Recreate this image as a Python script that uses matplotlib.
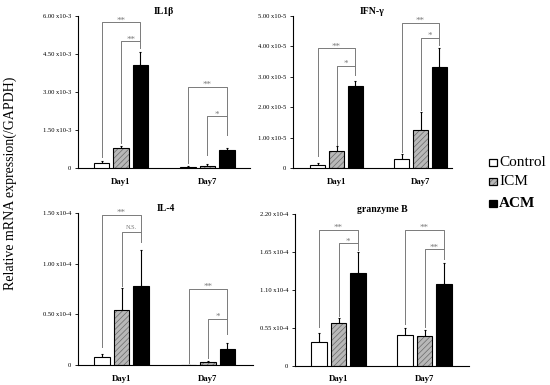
import matplotlib
matplotlib.use('Agg')
import matplotlib.pyplot as plt
from matplotlib.patches import Rectangle

plt.rcParams['font.family'] = ['Liberation Serif', 'DejaVu Serif']
plt.rcParams['hatch.linewidth'] = 0.5

# ---------------- data ----------------
days = ['Day1', 'Day7']
series = ['Control', 'ICM', 'ACM']

# IL1beta (x10-3)
il1b_mean = [[0.19, 0.04], [0.80, 0.10], [4.08, 0.72]]
il1b_err = [[0.10, 0.04], [0.07, 0.06], [0.49, 0.09]]
il1b_ticks = [0, 1.5, 3.0, 4.5, 6.0]
il1b_sig = [(0, 0, 2, 5.75, 0.45, 5.0, '**'), (0, 1, 2, 5.0, 1.0, 4.75, '**'),
            (1, 0, 2, 3.2, 0.2, 2.05, '**'), (1, 1, 2, 2.05, 0.52, 1.3, '*')]

# IFN-gamma (x10-5)
ifng_mean = [[0.11, 0.30], [0.55, 1.24], [2.70, 3.32]]
ifng_err = [[0.05, 0.16], [0.16, 0.60], [0.17, 0.62]]
ifng_ticks = [0, 1.0, 2.0, 3.0, 4.0, 5.0]
ifng_sig = [(0, 0, 2, 3.94, 0.40, 3.36, '**'), (0, 1, 2, 3.36, 0.75, 3.05, '*'),
            (1, 0, 2, 4.78, 0.52, 4.29, '**'), (1, 1, 2, 4.29, 1.92, 4.05, '*')]

# IL-4 (x10-4)
il4_mean = [[0.082, 0.002], [0.548, 0.029], [0.783, 0.157]]
il4_err = [[0.032, 0.0], [0.215, 0.010], [0.352, 0.058]]
il4_ticks = [0, 0.5, 1.0, 1.5]
il4_sig = [(0, 0, 2, 1.48, 0.18, 1.31, '**'), (0, 1, 2, 1.31, 0.78, 1.21, 'N.S.'),
           (1, 0, 2, 0.753, 0.02, 0.46, '**'), (1, 1, 2, 0.46, 0.07, 0.31, '*')]

# granzyme B (x10-4)
gzmb_mean = [[0.349, 0.451], [0.625, 0.426], [1.347, 1.192]]
gzmb_err = [[0.131, 0.101], [0.073, 0.088], [0.296, 0.296]]
gzmb_ticks = [0, 0.55, 1.10, 1.65, 2.20]
gzmb_sig = [(0, 0, 2, 1.967, 0.56, 1.773, '**'), (0, 1, 2, 1.773, 0.72, 1.68, '*'),
            (1, 0, 2, 1.967, 0.60, 1.686, '**'), (1, 1, 2, 1.686, 0.56, 1.55, '**')]

titles = ['IL1β', 'IFN-γ', 'IL-4', 'granzyme B']
exponents = ['x10-3', 'x10-5', 'x10-4', 'x10-4']

# ---------------- figure ----------------
W, H = 550, 385
fig = plt.figure(figsize=(W / 100, H / 100), dpi=100)

# (left px, px per unit, xlim, top px, bottom px)
layouts = [
    (78, 86.5, (-0.497, 1.49), 16, 168.3),
    (293, 84.0, (-0.518, 1.375), 16, 168.0),
    (78, 86.5, (-0.503, 1.52), 212.7, 365.3),
    (295, 86.0, (-0.506, 1.517), 214.0, 365.7),
]

panels = [
    (il1b_mean, il1b_err, il1b_ticks, il1b_sig),
    (ifng_mean, ifng_err, ifng_ticks, ifng_sig),
    (il4_mean, il4_err, il4_ticks, il4_sig),
    (gzmb_mean, gzmb_err, gzmb_ticks, gzmb_sig),
]

offset = 0.225
bw = 0.18
fills = ['white', '#b8b8b8', 'black']
sig_color = '#7a7a7a'

for k, (means, errs, ticks, sigs) in enumerate(panels):
    left, ppu, xl, top, bot = layouts[k]
    width_px = (xl[1] - xl[0]) * ppu
    ax = fig.add_axes([left / W, 1 - bot / H, width_px / W, (bot - top) / H])
    ax.set_xlim(*xl)
    ax.set_ylim(0, ticks[-1])
    for s in range(3):
        xs = [d + (s - 1) * offset for d in range(2)]
        if s == 1:
            ax.bar(xs, means[s], width=bw, color=fills[s], edgecolor='#6a6a6a',
                   hatch='//////', linewidth=0, zorder=2)
            ax.bar(xs, means[s], width=bw, fill=False, edgecolor='black',
                   linewidth=0.8, zorder=3)
        else:
            ax.bar(xs, means[s], width=bw, color=fills[s], edgecolor='black',
                   linewidth=0.8, zorder=3)
        ax.errorbar(xs, means[s], yerr=[[0, 0], errs[s]], fmt='none',
                    ecolor='black', elinewidth=0.8, capsize=1.0, capthick=0.8,
                    zorder=1)
    for d, i, j, yb, yi, yj, lab in sigs:
        xi = d + (i - 1) * offset
        xj = d + (j - 1) * offset
        ax.plot([xi, xi, xj, xj], [yi, yb, yb, yj], color=sig_color, lw=0.7,
                zorder=4, clip_on=False)
        small = lab == 'N.S.'
        ax.text((xi + xj) / 2, yb + ticks[-1] * (0.012 if small else -0.015), lab,
                ha='center', va='bottom', fontsize=4.5 if small else 6.5,
                color=sig_color)
    ax.spines['top'].set_visible(False)
    ax.spines['right'].set_visible(False)
    ax.spines['left'].set_linewidth(0.8)
    ax.spines['bottom'].set_linewidth(0.8)
    ax.set_yticks(ticks)
    ax.set_yticklabels(['0' if t == 0 else f'{t:.2f} {exponents[k]}' for t in ticks])
    ax.tick_params(axis='y', direction='out', length=2, width=0.6, pad=3,
                   labelsize=4.7)
    ax.set_xticks([0, 1])
    ax.set_xticklabels(days)
    ax.tick_params(axis='x', length=0, pad=7, labelsize=6.3)
    for lbl in ax.get_xticklabels():
        lbl.set_fontweight('bold')
    ax.set_title(titles[k], fontsize=7, fontweight='bold', pad=0)

# y label
fig.text(10 / W, 1 - 183 / H, 'Relative mRNA expression(/GAPDH)', rotation=90,
         ha='center', va='center', fontsize=10)

# legend
leg_y = [162.5, 181.5, 203.5]
for s in range(3):
    y = leg_y[s]
    sq = 7.5
    if s == 1:
        r = Rectangle((489 / W, 1 - (y + sq / 2) / H), sq / W, sq / H,
                      transform=fig.transFigure, facecolor='#b8b8b8',
                      edgecolor='#6a6a6a', hatch='//////', linewidth=0)
        fig.add_artist(r)
    r = Rectangle((489 / W, 1 - (y + sq / 2) / H), sq / W, sq / H,
                  transform=fig.transFigure, facecolor=fills[s] if s != 1 else 'none',
                  edgecolor='black', linewidth=0.9)
    fig.add_artist(r)
    fig.text(499 / W, 1 - y / H, series[s], ha='left', va='center', fontsize=11,
             fontweight='bold' if s == 2 else 'normal')

fig.savefig('out.png', dpi=100)
